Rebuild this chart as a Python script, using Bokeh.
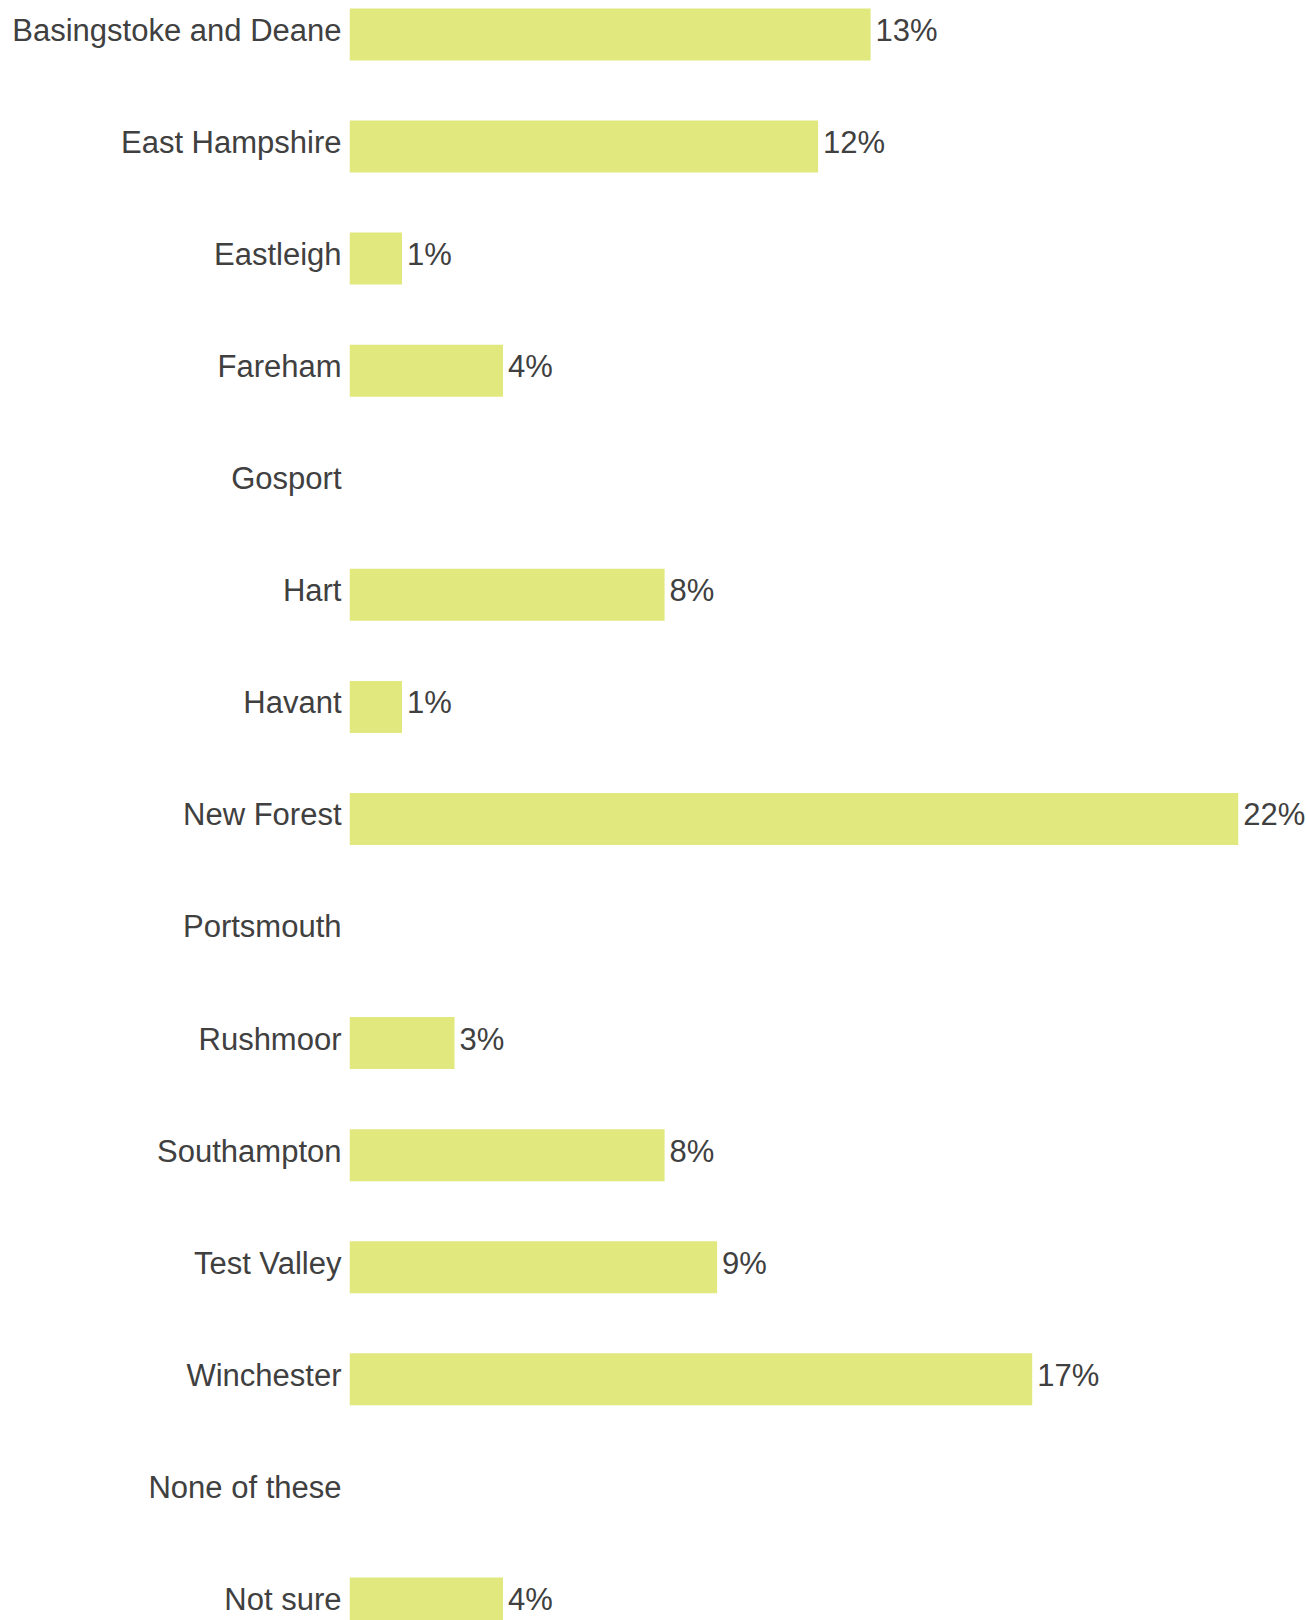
import numpy as np
from bokeh.plotting import figure
from bokeh.models import ColumnDataSource, FixedTicker, Range1d
from bokeh.core.properties import value
from bokeh.embed import file_html
from bokeh.resources import INLINE

categories = ["Basingstoke and Deane", "East Hampshire", "Eastleigh", "Fareham", "Gosport",
              "Hart", "Havant", "New Forest", "Portsmouth", "Rushmoor", "Southampton",
              "Test Valley", "Winchester", "None of these", "Not sure"]
values = [12.9, 11.6, 1.3, 3.8, 0.0, 7.8, 1.3, 22.0, 0.0, 2.6, 7.8, 9.1, 16.9, 0.0, 3.8]
labels = ["13%", "12%", "1%", "4%", "", "8%", "1%", "22%", "", "3%", "8%", "9%", "17%", "", "4%"]

n = len(categories)
ypos = [n - 1 - i for i in range(n)]

src = ColumnDataSource(dict(y=ypos, v=values, lab=labels))

p = figure(width=1306, height=1620, output_backend="svg", toolbar_location=None,
           x_range=Range1d(0, 23.69), y_range=Range1d(-0.152, 14.303),
           min_border_left=349, min_border_right=0, min_border_top=0, min_border_bottom=0)
p.outline_line_color = None
p.xgrid.visible = False
p.ygrid.visible = False
p.xaxis.visible = False

p.hbar(y="y", right="v", left=0, height=0.464, source=src, color="#e0e87e", line_color=None)
p.text(x="v", y="y", text="lab", source=src, x_offset=5, y_offset=-4, text_align="left",
       text_baseline="middle", text_font=value("Liberation Sans"), text_font_size="31px",
       text_color="#404040")

# label ticks nudged up slightly so text sits as in the reference
shift = 0.036
tick_pos = [y + shift for y in ypos]
ax = p.yaxis[0]
ax.ticker = FixedTicker(ticks=tick_pos)
ax.major_label_overrides = {t: c for t, c in zip(tick_pos, categories)}
ax.axis_line_color = None
ax.major_tick_line_color = None
ax.minor_tick_line_color = None
ax.major_tick_out = 0
ax.major_tick_in = 0
ax.major_label_standoff = 8
ax.major_label_text_font = "Liberation Sans"
ax.major_label_text_font_size = "31px"
ax.major_label_text_color = "#404040"

open("out.html", "w").write(file_html(p, INLINE))
